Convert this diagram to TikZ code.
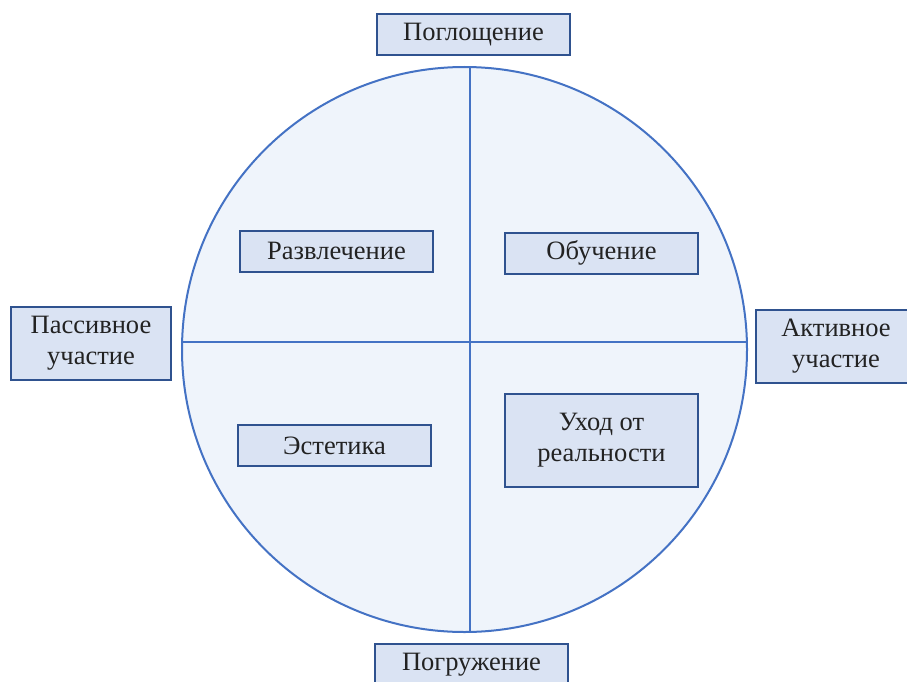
\documentclass[tikz,border=0pt]{standalone}
\usepackage{fontspec}
\setmainfont{Liberation Serif}
\newfontfamily\labelfont{Liberation Serif}
\usepackage{tikz}
\usepackage{xcolor}

\definecolor{ringblue}{HTML}{4472C4}
\definecolor{boxline}{HTML}{2F528F}
\definecolor{boxfill}{HTML}{DAE3F3}
\definecolor{ringfill}{HTML}{EFF4FB}
\definecolor{txt}{HTML}{222222}

\begin{document}
\begin{tikzpicture}[x=1pt, y=-1pt,
  every node/.style={font=\labelfont\fontsize{26.5}{31}\selectfont, text=txt},
  box/.style={draw=boxline, line width=2pt, fill=boxfill, minimum width=193pt, minimum height=41pt, inner sep=0pt, align=center},
  sidebox/.style={box, minimum width=160pt, minimum height=73pt}]

\useasboundingbox (0,0) rectangle (907,682);

% Circle
\draw[ringblue, line width=2pt, fill=ringfill] (464.5,349.5) circle (282.5);

% Dividers
\coordinate (vtop) at (470,67);
\coordinate (vbot) at (470,632);
\coordinate (hleft) at (182,342);
\coordinate (hright) at (747,342);
\draw[ringblue, line width=1.2pt] (vtop) -- (vbot);
\draw[ringblue, line width=1.2pt] (hleft) -- (hright);

% Axis labels
\node[box] (absorb) at (473.5,34.5) {Поглощение};
\node[box] (immerse) at (471.5,664.5) {Погружение};
\node[sidebox] (passive) at (91,343.5) {Пассивное\\участие};
\node[sidebox] (active) at (836,346.5) {Активное\\участие};

% Quadrants
\node[box] (fun) at (336.5,251) {Развлечение};
\node[box] (learn) at (601.5,253) {Обучение};
\node[box] (aesth) at (334.5,445.5) {Эстетика};
\node[box, minimum height=93pt] (escape) at (601.5,440.5) {Уход от\\реальности};

\end{tikzpicture}
\end{document}
